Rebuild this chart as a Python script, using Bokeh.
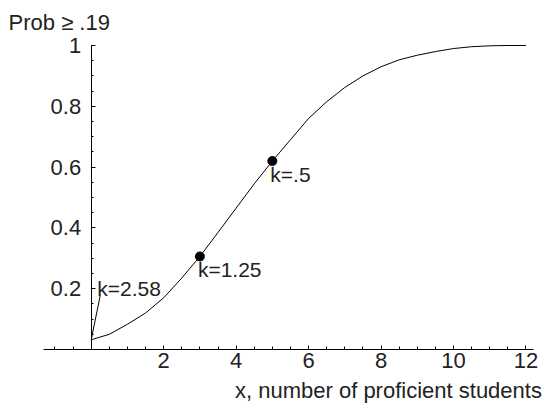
from bokeh.plotting import figure
from bokeh.models import Range1d, FixedTicker, Label, LinearAxis
from bokeh.embed import file_html
from bokeh.resources import INLINE

# curve data: P(score >= .19) vs x
curve_x = [0, 0.5, 1, 1.5, 2, 2.5, 3, 3.5, 4, 4.5, 5, 5.5, 6, 6.5, 7, 7.5, 8, 8.5,
           9, 9.5, 10, 10.5, 11, 11.5, 12]
curve_y = [0.032, 0.05, 0.083, 0.12, 0.17, 0.235, 0.306, 0.385, 0.465, 0.545, 0.62,
           0.69, 0.76, 0.815, 0.862, 0.9, 0.93, 0.953, 0.968, 0.98, 0.99, 0.996,
           0.999, 1.0, 1.0]

# marked points
k_x = [3, 5]
k_y = [0.306, 0.62]
k_text = ["k=1.25", "k=.5"]

# leader annotation
lead_x = [0, 0.25]
lead_y = [0.032, 0.178]
lead_text = "k=2.58"

x_major = [2, 4, 6, 8, 10, 12]
x_minor = [v * 0.5 for v in range(-2, 25)]
y_major = [0.2, 0.4, 0.6, 0.8, 1]
y_minor = [round(v * 0.05, 2) for v in range(1, 21)]
y_labels = {0.2: "0.2", 0.4: "0.4", 0.6: "0.6", 0.8: "0.8", 1: "1"}

x_axis_extent = (-1.33, 12.2)
y_axis_extent = (0, 1)

FONT = "Liberation Sans"
TXT = "#222222"

p = figure(width=546, height=405, output_backend="svg", toolbar_location=None,
           x_range=Range1d(-2.503, 12.566), y_range=Range1d(-0.1842, 1.148),
           x_axis_type=None, y_axis_type=None,
           min_border_left=0, min_border_right=0, min_border_top=0,
           min_border_bottom=0)
p.outline_line_color = None
p.grid.visible = False
p.background_fill_color = "white"
p.border_fill_color = "white"

xa = LinearAxis(ticker=FixedTicker(ticks=x_major, minor_ticks=x_minor),
                fixed_location=0, bounds=x_axis_extent)
xa.major_tick_in = 4
xa.major_tick_out = 0
xa.minor_tick_in = 3
xa.minor_tick_out = 0
xa.major_label_standoff = 3
xa.major_label_text_font = FONT
xa.major_label_text_font_size = "22px"
xa.major_label_text_color = TXT
xa.axis_line_color = "black"
xa.major_tick_line_color = "black"
xa.minor_tick_line_color = "black"
p.add_layout(xa, "below")

ya = LinearAxis(ticker=FixedTicker(ticks=y_major, minor_ticks=y_minor),
                fixed_location=0, bounds=y_axis_extent)
ya.major_label_overrides = y_labels
ya.major_tick_in = 4
ya.major_tick_out = 0
ya.minor_tick_in = 2
ya.minor_tick_out = 0
ya.major_label_standoff = 10
ya.major_label_text_font = FONT
ya.major_label_text_font_size = "22px"
ya.major_label_text_color = TXT
ya.axis_line_color = "black"
ya.major_tick_line_color = "black"
ya.minor_tick_line_color = "black"
p.add_layout(ya, "left")

p.line(curve_x, curve_y, line_color="black", line_width=1)
p.line(lead_x, lead_y, line_color="black", line_width=1)
p.scatter(k_x, k_y, size=9, color="black")

for xv, yv, t in zip(k_x, k_y, k_text):
    p.add_layout(Label(x=xv, y=yv, text=t, x_offset=-2, y_offset=-13,
                       text_font=FONT, text_font_size="21px",
                       text_color=TXT, text_baseline="middle"))

p.add_layout(Label(x=lead_x[1], y=lead_y[1], text=lead_text, x_offset=-3,
                   y_offset=7, text_font=FONT, text_font_size="21px",
                   text_color=TXT, text_baseline="middle"))

p.add_layout(Label(x=-2.28, y=1.0757, text="Prob \u2265 .19",
                   text_font=FONT, text_font_size="22px",
                   text_color=TXT, text_baseline="middle"))

p.add_layout(Label(x=12.44, y=-0.135, text="x, number of proficient students",
                   text_font=FONT, text_font_size="22px", text_align="right",
                   text_color=TXT, text_baseline="middle"))

open("out.html", "w").write(file_html(p, INLINE))
